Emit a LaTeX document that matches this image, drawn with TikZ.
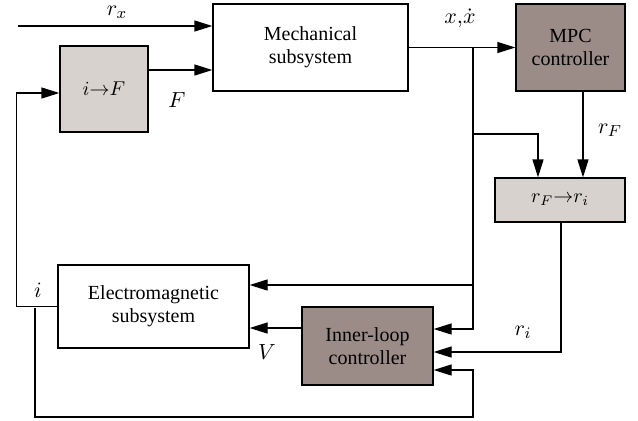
\documentclass[tikz,border=0pt]{standalone}
\usepackage{fontspec}
\setmainfont{Liberation Serif}
\usetikzlibrary{arrows.meta}
\definecolor{lightbox}{RGB}{216,210,207}
\definecolor{darkbox}{RGB}{155,140,135}
\begin{document}
\begin{tikzpicture}[x=0.5pt, y=-0.5pt, line width=0.65pt,
  >={Triangle[length=9pt,width=5.5pt]},
  block/.style={draw, align=center, inner sep=0pt, font=\fontsize{10}{11.5}\selectfont},
  lbl/.style={font=\fontsize{11}{12}\selectfont}]
  \useasboundingbox (0,0) rectangle (638,420);
  % blocks
  \node[block, minimum width=97.5pt, minimum height=43.5pt] (mech) at (310.5,47.5) {Mechanical\\subsystem};
  \node[block, fill=lightbox, minimum width=44pt, minimum height=43pt] (iF) at (104,89) {$i{\to}F$};
  \node[block, fill=darkbox, minimum width=54.5pt, minimum height=43.5pt] (mpc) at (570.5,47.5) {MPC\\controller};
  \node[block, fill=lightbox, minimum width=65pt, minimum height=22pt] (rFri) at (560,200) {$r_F{\to}r_i$};
  \node[block, minimum width=95.5pt, minimum height=41.5pt] (em) at (153.5,306.5) {Electromagnetic\\subsystem};
  \node[block, fill=darkbox, minimum width=65.5pt, minimum height=39pt] (inner) at (367.5,346) {Inner-loop\\controller};
  % junctions
  \coordinate (rxin) at (18,26);
  \coordinate (xsplit) at (473,48);
  \coordinate (isplit) at (35,308);
  % connectors
  \draw[->] (rxin) -- (rxin -| mech.west);
  \draw[->] (iF.east |- 0,70) -- (mech.west |- 0,70);
  \draw[->] (mech.east) -- (mpc.west);
  \draw[->] (em.west) -- ++(-41,0) |- (iF.west |- 0,93);
  \draw[->] (isplit) |- (473,417) |- (inner.east |- 0,370);
  \draw[->] (xsplit) |- (inner.east |- 0,329);
  \draw[->] (xsplit |- 0,285) -- (em.east |- 0,285);
  \draw[->] (xsplit |- 0,134) -| (rFri.north -| 538,0);
  \draw[->] (mpc.south -| 583,0) -- (rFri.north -| 583,0);
  \draw[->] (rFri.south -| 561,0) |- (inner.east |- 0,352);
  \draw[->] (inner.west |- 0,328) -- (em.east |- 0,328);
  % labels
  \node[lbl] (lrx) at (117,12) {$r_x$};
  \node[lbl] (lF) at (177,100) {$F$};
  \node[lbl] (lx) at (460,18) {$x{,}\dot{x}$};
  \node[lbl] (lrF) at (610,130) {$r_F$};
  \node[lbl] (lri) at (523,332) {$r_i$};
  \node[lbl] (li) at (38,290) {$i$};
  \node[lbl] (lV) at (267,352) {$V$};
\end{tikzpicture}
\end{document}
